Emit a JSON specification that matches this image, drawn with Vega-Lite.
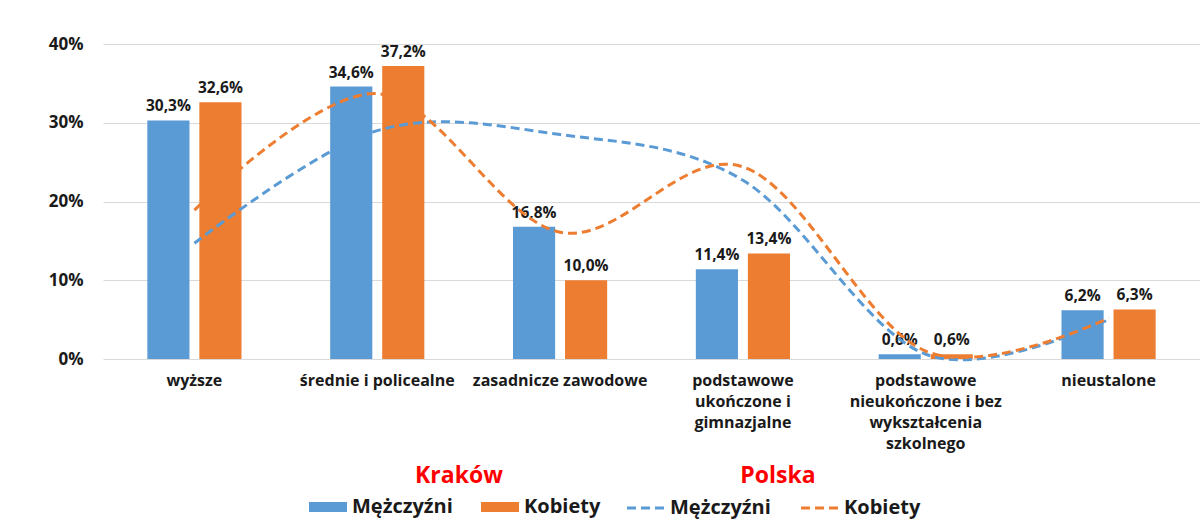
{
  "$schema": "https://vega.github.io/schema/vega-lite/v6.json",
  "width": 1032,
  "height": 315,
  "autosize": {"type": "none"},
  "padding": {"left": 103, "top": 44, "right": 65, "bottom": 163},
  "background": "white",
  "config": {
    "locale": {"number": {"decimal": ",", "thousands": " ", "grouping": [3], "currency": ["", " zł"]}},
    "font": "Open Sans",
    "view": {"stroke": null},
    "axis": {"labelFont": "Open Sans", "labelFontWeight": "bold", "labelColor": "#1a1a1a"},
    "legend": {
      "labelFont": "Open Sans", "labelFontWeight": "bold", "labelFontSize": 20, "labelColor": "#1a1a1a",
      "titleFont": "Open Sans", "titleFontWeight": "bold", "titleFontSize": 23, "titleColor": "#FF0000",
      "titleAnchor": "middle", "orient": "bottom", "direction": "horizontal",
      "columnPadding": 28, "titlePadding": 9, "offset": 14,
      "layout": {"bottom": {"anchor": "middle", "direction": "horizontal", "margin": 34}}
    }
  },
  "datasets": {
    "krakow": [
      {"kat": "wyższe", "plec_k": "Mężczyźni", "v": 0.303},
      {"kat": "wyższe", "plec_k": "Kobiety", "v": 0.326},
      {"kat": "średnie i policealne", "plec_k": "Mężczyźni", "v": 0.346},
      {"kat": "średnie i policealne", "plec_k": "Kobiety", "v": 0.372},
      {"kat": "zasadnicze zawodowe", "plec_k": "Mężczyźni", "v": 0.168},
      {"kat": "zasadnicze zawodowe", "plec_k": "Kobiety", "v": 0.100},
      {"kat": "podstawowe ukończone i gimnazjalne", "plec_k": "Mężczyźni", "v": 0.114},
      {"kat": "podstawowe ukończone i gimnazjalne", "plec_k": "Kobiety", "v": 0.134},
      {"kat": "podstawowe nieukończone i bez wykształcenia szkolnego", "plec_k": "Mężczyźni", "v": 0.006},
      {"kat": "podstawowe nieukończone i bez wykształcenia szkolnego", "plec_k": "Kobiety", "v": 0.006},
      {"kat": "nieustalone", "plec_k": "Mężczyźni", "v": 0.062},
      {"kat": "nieustalone", "plec_k": "Kobiety", "v": 0.063}
    ],
    "polska": [
      {"kat": "wyższe", "plec_p": "Mężczyźni", "v": 0.147},
      {"kat": "średnie i policealne", "plec_p": "Mężczyźni", "v": 0.29},
      {"kat": "zasadnicze zawodowe", "plec_p": "Mężczyźni", "v": 0.285},
      {"kat": "podstawowe ukończone i gimnazjalne", "plec_p": "Mężczyźni", "v": 0.227},
      {"kat": "podstawowe nieukończone i bez wykształcenia szkolnego", "plec_p": "Mężczyźni", "v": 0.006},
      {"kat": "nieustalone", "plec_p": "Mężczyźni", "v": 0.050},
      {"kat": "wyższe", "plec_p": "Kobiety", "v": 0.189},
      {"kat": "średnie i policealne", "plec_p": "Kobiety", "v": 0.337},
      {"kat": "zasadnicze zawodowe", "plec_p": "Kobiety", "v": 0.161},
      {"kat": "podstawowe ukończone i gimnazjalne", "plec_p": "Kobiety", "v": 0.244},
      {"kat": "podstawowe nieukończone i bez wykształcenia szkolnego", "plec_p": "Kobiety", "v": 0.010},
      {"kat": "nieustalone", "plec_p": "Kobiety", "v": 0.052}
    ]
  },
  "encoding": {
    "x": {
      "field": "kat", "type": "nominal", "title": null,
      "scale": {
        "domain": ["wyższe", "średnie i policealne", "zasadnicze zawodowe", "podstawowe ukończone i gimnazjalne", "podstawowe nieukończone i bez wykształcenia szkolnego", "nieustalone"],
        "range": [0, 1097],
        "paddingInner": 0.485, "paddingOuter": 0.2425
      },
      "axis": {
        "labelAngle": 0, "domain": false, "ticks": false, "tickSize": 0, "labelPadding": 13,
        "labelFontSize": 16, "labelLineHeight": 21, "labelBaseline": "top", "labelLimit": 0, "labelOverlap": false,
        "labelExpr": "datum.value == 'podstawowe ukończone i gimnazjalne' ? ['podstawowe', 'ukończone i', 'gimnazjalne'] : datum.value == 'podstawowe nieukończone i bez wykształcenia szkolnego' ? ['podstawowe', 'nieukończone i bez', 'wykształcenia', 'szkolnego'] : datum.label"
      }
    },
    "y": {
      "field": "v", "type": "quantitative", "title": null,
      "scale": {"domain": [0, 0.4], "nice": false},
      "axis": {
        "values": [0, 0.1, 0.2, 0.3, 0.4], "format": ".0%", "domain": false, "ticks": false,
        "labelPadding": 20, "labelFontSize": 17, "gridColor": "#D9D9D9", "gridWidth": 1
      }
    }
  },
  "layer": [
    {
      "data": {"name": "krakow"},
      "mark": {"type": "bar"},
      "encoding": {
        "xOffset": {"field": "plec_k", "type": "nominal", "scale": {"domain": ["Mężczyźni", "Kobiety"], "paddingInner": 0.19}},
        "fill": {
          "field": "plec_k", "type": "nominal", "sort": ["Mężczyźni", "Kobiety"],
          "scale": {"range": ["#5B9BD5", "#ED7D31"]},
          "legend": {"title": "Kraków", "symbolType": "M-2,-0.53H2V0.53H-2Z", "symbolSize": 361, "symbolStrokeWidth": 0, "labelOffset": 14}
        }
      }
    },
    {
      "data": {"name": "krakow"},
      "mark": {"type": "text", "dy": -9, "baseline": "alphabetic", "fontSize": 15.5, "fontWeight": "bold", "color": "#1a1a1a", "font": "Open Sans"},
      "encoding": {
        "xOffset": {"field": "plec_k", "type": "nominal", "scale": {"domain": ["Mężczyźni", "Kobiety"], "paddingInner": 0.19}},
        "text": {"field": "v", "type": "quantitative", "format": ".1%"}
      }
    },
    {
      "data": {"name": "polska"},
      "mark": {"type": "line", "interpolate": "cardinal", "strokeWidth": 3, "strokeDash": [9, 5]},
      "encoding": {
        "stroke": {
          "field": "plec_p", "type": "nominal", "sort": ["Mężczyźni", "Kobiety"],
          "scale": {"range": ["#5B9BD5", "#ED7D31"]},
          "legend": {"title": "Polska", "symbolType": "M-2,0H2", "symbolSize": 361, "symbolStrokeWidth": 3, "symbolDash": [9, 5], "labelOffset": 13, "columnPadding": 24}
        }
      }
    }
  ]
}
